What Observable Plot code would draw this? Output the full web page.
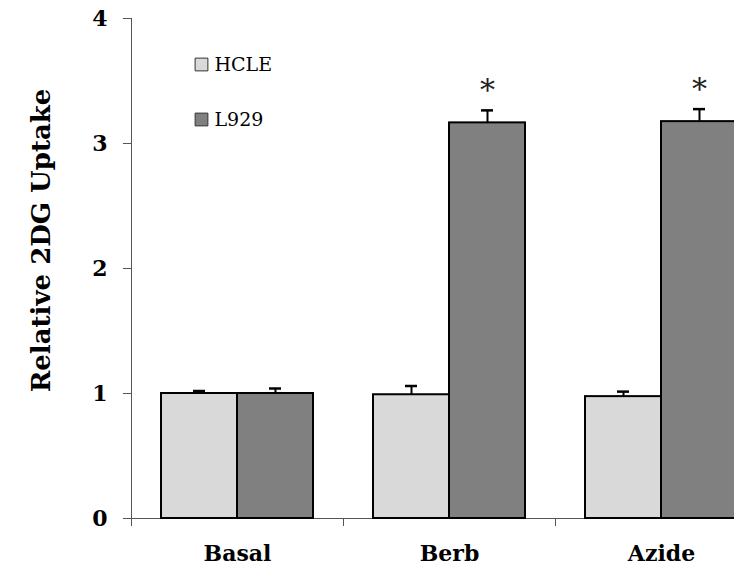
<!DOCTYPE html>
<html>
<head>
<meta charset="utf-8">
<script src="https://cdn.jsdelivr.net/npm/d3@7"></script>
<script src="https://cdn.jsdelivr.net/npm/@observablehq/plot@0.6"></script>
<style>
  html, body { margin: 0; padding: 0; background: #fff; overflow: hidden; }
  #chart svg { overflow: hidden; }
</style>
</head>
<body>
<div id="chart"></div>
<script>
const categories = ["Basal", "Berb", "Azide"];
const series = ["HCLE", "L929"];
const hcleValues = [1.00, 0.99, 0.975];
const hcleErrors = [0.02, 0.07, 0.04];
const l929Values = [1.00, 3.165, 3.175];
const l929Errors = [0.04, 0.10, 0.10];
const l929Significant = [false, true, true];
const yTicks = [0, 1, 2, 3, 4];
const yLabel = "Relative 2DG Uptake";
const seriesColors = ["#d9d9d9", "#808080"];

const rows = [];
categories.forEach((c, i) => {
  rows.push({cat: c, s: "HCLE", v: hcleValues[i], e: hcleErrors[i], sig: false});
  rows.push({cat: c, s: "L929", v: l929Values[i], e: l929Errors[i], sig: l929Significant[i]});
});
const legendRows = series.map((s, i) => ({cat: categories[0], s, i}));

const serif = "'DejaVu Serif', 'Liberation Serif', serif";

const plot = Plot.plot({
  width: 734,
  height: 571,
  marginLeft: 130,
  marginRight: -33,
  marginTop: 18,
  marginBottom: 53,
  style: {fontFamily: serif, background: "white"},
  fx: {domain: categories, padding: 0, label: null},
  x: {domain: series, paddingInner: 0, paddingOuter: 0.39, axis: null},
  y: {domain: [0, 4], label: null},
  color: {domain: series, range: seriesColors},
  marks: [
    Plot.frame({anchor: "left", facetAnchor: "left", stroke: "#555", strokeWidth: 1}),
    Plot.axisY({ticks: yTicks, tickFormat: d3.format("d"), tickSize: 8, tickPadding: 16, fontSize: 22, fontWeight: "bold", stroke: "#555", fill: "#000", label: null}),
    Plot.axisFx({anchor: "bottom", tickSize: 0, tickPadding: 27, fontSize: 22, fontWeight: "bold", label: null, fill: "#000"}),
    Plot.axisFx({anchor: "bottom", tickSize: 8, tickFormat: () => "", dx: -106, stroke: "#555", label: null}),
    Plot.ruleY([0], {stroke: "#555", strokeWidth: 1.2}),
    Plot.barY(rows, {fx: "cat", x: "s", y: "v", fill: "s", stroke: "#000", strokeWidth: 2}),
    Plot.ruleX(rows, {fx: "cat", x: "s", y1: "v", y2: d => d.v + d.e, stroke: "#000", strokeWidth: 2}),
    Plot.tickY(rows, {fx: "cat", x: "s", y: d => d.v + d.e, stroke: "#000", strokeWidth: 2.5, insetLeft: 32, insetRight: 32}),
    Plot.text(rows.filter(d => d.sig), {fx: "cat", x: "s", y: d => d.v + d.e, text: () => "*", fontSize: 30, fill: "#222", dy: -20, fontFamily: serif}),
    Plot.dot(legendRows.slice(0, 1), {fx: "cat", frameAnchor: "top-left", dx: 70, dy: 46, symbol: "square", r: 7.2, fill: "s", stroke: "#333", strokeWidth: 1}),
    Plot.dot(legendRows.slice(1, 2), {fx: "cat", frameAnchor: "top-left", dx: 70, dy: 101, symbol: "square", r: 7.2, fill: "s", stroke: "#333", strokeWidth: 1}),
    Plot.text(legendRows.slice(0, 1), {fx: "cat", frameAnchor: "top-left", dx: 83, dy: 46, text: "s", textAnchor: "start", lineAnchor: "middle", fontSize: 19, fill: "#000", fontFamily: serif}),
    Plot.text(legendRows.slice(1, 2), {fx: "cat", frameAnchor: "top-left", dx: 83, dy: 101, text: "s", textAnchor: "start", lineAnchor: "middle", fontSize: 19, fill: "#000", fontFamily: serif}),
    Plot.text([yLabel], {fx: () => categories[0], frameAnchor: "left", rotate: -90, dx: -90, dy: -28, textAnchor: "middle", lineAnchor: "middle", fontSize: 26, fontWeight: "bold", fill: "#000", fontFamily: serif})
  ]
});
document.getElementById("chart").appendChild(plot);
</script>
</body>
</html>
